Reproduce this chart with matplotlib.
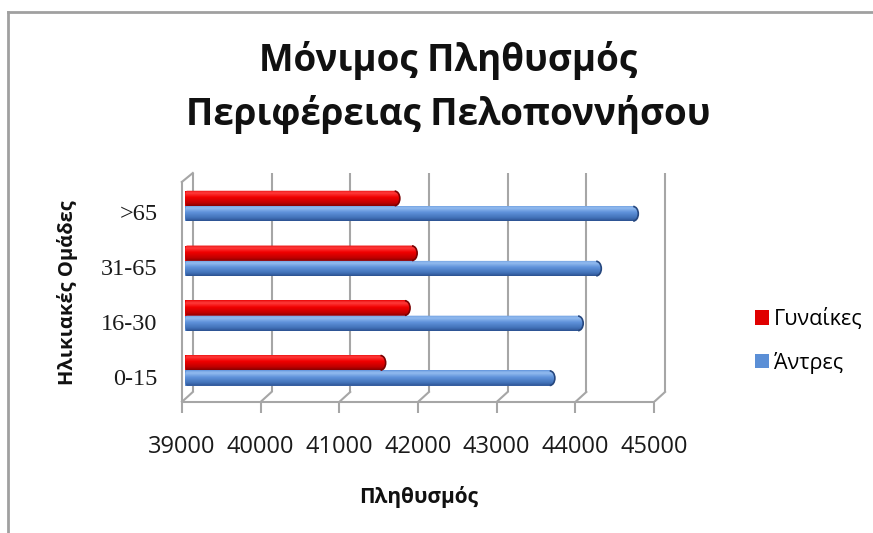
import numpy as np
import matplotlib
matplotlib.use("Agg")
import matplotlib.pyplot as plt
from matplotlib.path import Path
from matplotlib.patches import Arc, Patch
from matplotlib.lines import Line2D
from matplotlib.colors import to_rgb

# ---- data -------------------------------------------------------------
age_groups = ["0-15", "16-30", "31-65", ">65"]
women = [41550, 41860, 41950, 41730]
men = [43700, 44060, 44290, 44760]
x_ticks = [39000, 40000, 41000, 42000, 43000, 44000, 45000]
series_names = ["Γυναίκες", "Άντρες"]
title_lines = ["Μόνιμος Πληθυσμός", "Περιφέρειας Πελοποννήσου"]
x_title = "Πληθυσμός"
y_title = "Ηλικιακές Ομάδες"

# ---- style ------------------------------------------------------------
plt.rcParams["font.family"] = ["Open Sans", "DejaVu Sans"]
GRID = "#a6a6a6"
RED_STOPS = [(0.0, "#e81010"), (0.18, "#ff3a3a"), (0.45, "#f00000"),
             (0.8, "#c00000"), (1.0, "#880000")]
BLUE_STOPS = [(0.0, "#6e9ee0"), (0.18, "#92bbef"), (0.45, "#5f92da"),
              (0.8, "#4272b8"), (1.0, "#2b5190")]
RED_RIM, BLUE_RIM = "#7a0000", "#26477e"
RED_KEY, BLUE_KEY = "#e00000", "#5b8fd6"

W, H, DPI = 873, 533, 100
fig = plt.figure(figsize=(W / DPI, H / DPI), dpi=DPI)
fig.patch.set_facecolor("white")


def fx(px):
    return px / W


def fy(py):
    return 1 - py / H


# plot area
ax = fig.add_axes([fx(170), fy(402), 510 / W, 237 / H])
ax.set_facecolor("none")
X_LIM = (38810, 45290)
Y_LIM = (-0.575, 3.75)

# pseudo-3D box: front floor edge, back wall, left wall
FRONT_DX, BACK_DX = -40, 100
FLOOR_FRONT, FLOOR_BACK, WALL_TOP, LEFT_TOP = -0.575, -0.392, 3.604, 3.44
for v in x_ticks:
    ax.plot([v + BACK_DX] * 2, [FLOOR_BACK, WALL_TOP], color=GRID, lw=1.5,
            zorder=1, solid_capstyle="butt")
    ax.plot([v + FRONT_DX, v + BACK_DX], [FLOOR_FRONT, FLOOR_BACK],
            color=GRID, lw=1.5, zorder=1)
x0 = x_ticks[0]
ax.plot([x0 + FRONT_DX] * 2, [FLOOR_FRONT, LEFT_TOP], color=GRID, lw=1.5,
        zorder=1)
ax.plot([x0 + FRONT_DX, x0 + BACK_DX], [LEFT_TOP, WALL_TOP], color=GRID,
        lw=1.5, zorder=1)


def gradient(stops, n=64):
    pos = [s[0] for s in stops]
    cols = np.array([to_rgb(s[1]) for s in stops])
    t = np.linspace(0, 1, n)
    return np.stack([np.interp(t, pos, cols[:, c]) for c in range(3)], axis=1)


def cylinder(start, end, yc, h, stops, rim, rx=65, rxl=25):
    # flat core from the bar call, shaded cylinder body clipped to a capsule
    ax.barh(yc, end - start - rx, left=start, height=h,
            color=to_rgb(stops[2][1]), zorder=2, linewidth=0)
    t = np.linspace(-np.pi / 2, np.pi / 2, 40)
    right = np.column_stack([end - rx + rx * np.cos(t), yc + h / 2 * np.sin(t)])
    left = np.column_stack([start + rxl - rxl * np.cos(t), yc - h / 2 * np.sin(t)])
    verts = np.vstack([right, left, right[:1]])
    codes = [Path.MOVETO] + [Path.LINETO] * (len(verts) - 2) + [Path.CLOSEPOLY]
    capsule = Path(verts, codes)
    img = ax.imshow(gradient(stops)[:, None, :],
                    extent=(start, end, yc - h / 2, yc + h / 2),
                    aspect="auto", origin="upper", interpolation="bilinear",
                    zorder=3)
    img.set_clip_path(capsule, ax.transData)
    ax.add_patch(Arc((end - rx, yc), 2 * rx, h * 0.95, theta1=-90, theta2=90,
                     color=rim, lw=1.2, zorder=4))


BAR_H = 0.28
for i in range(len(age_groups)):
    cylinder(x0, women[i], i + BAR_H / 2, BAR_H, RED_STOPS, RED_RIM)
    cylinder(x0, men[i], i - BAR_H / 2, BAR_H, BLUE_STOPS, BLUE_RIM)

ax.set_xlim(*X_LIM)
ax.set_ylim(*Y_LIM)

# axes, ticks and labels
for side in ("top", "right", "left"):
    ax.spines[side].set_visible(False)
ax.spines["bottom"].set_color(GRID)
ax.spines["bottom"].set_linewidth(1.5)
ax.spines["bottom"].set_bounds(x_ticks[0] + FRONT_DX, x_ticks[-1] + FRONT_DX)
ax.set_xticks([v + FRONT_DX for v in x_ticks])
ax.set_xticklabels([str(v) for v in x_ticks], fontsize=17, color="#1a1a1a")
ax.tick_params(axis="x", direction="out", length=8, width=1.5, color=GRID,
               pad=16)
ax.set_yticks([i - 0.115 for i in range(len(age_groups))])
ax.set_yticklabels(age_groups, family=["Liberation Serif"], fontsize=17.5,
                   color="#1a1a1a")
ax.tick_params(axis="y", length=0, pad=9)

# titles
fig.text(fx(448), fy(60), title_lines[0], ha="center", va="center",
         fontsize=26.5, fontweight="bold", color="#111111")
fig.text(fx(448), fy(114), title_lines[1], ha="center", va="center",
         fontsize=26.5, fontweight="bold", color="#111111")
fig.text(fx(419), fy(497), x_title, ha="center", va="center", fontsize=15,
         fontweight="bold", color="#111111")
fig.text(fx(67), fy(293), y_title, ha="center", va="center", rotation=90,
         fontsize=14.5, fontweight="bold", color="#111111")

# legend
handles = [Patch(facecolor=RED_KEY), Patch(facecolor=BLUE_KEY)]
fig.legend(handles, series_names, loc="center left",
           bbox_to_anchor=(fx(755), fy(341)), frameon=False, fontsize=15.5,
           handlelength=0.65, handleheight=0.65, handletextpad=0.25,
           labelspacing=1.0, borderpad=0, borderaxespad=0)

# outer frame of the chart area
fig.add_artist(Line2D([fx(8), 1], [fy(12), fy(12)], color="#a0a0a0", lw=2))
fig.add_artist(Line2D([fx(8), fx(8)], [fy(12), 0], color="#a0a0a0", lw=2))

fig.savefig("out.png", dpi=DPI, facecolor="white")
